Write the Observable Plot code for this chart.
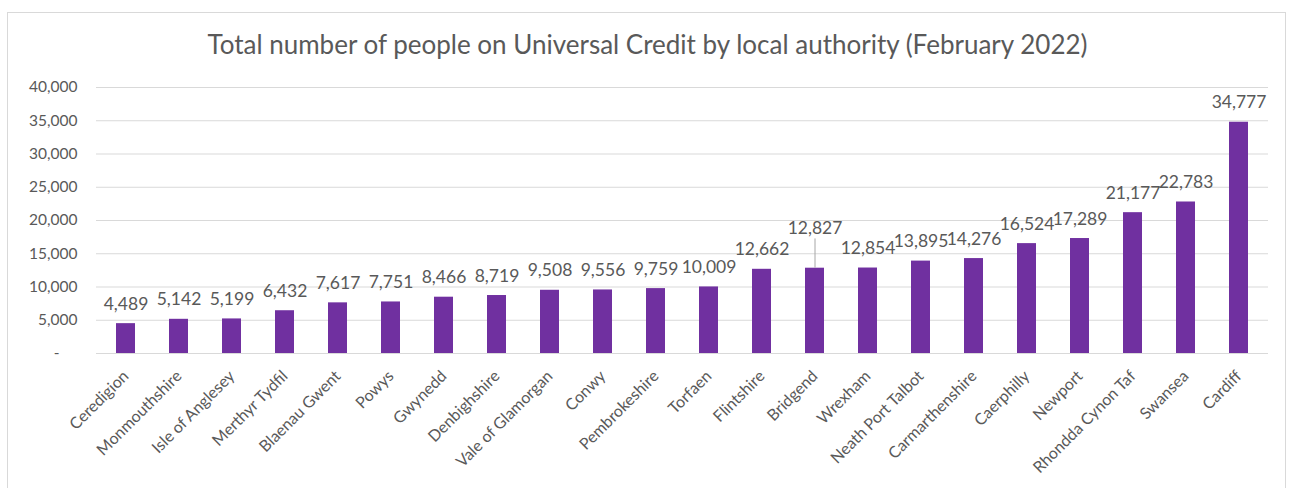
<!DOCTYPE html>
<html>
<head>
<meta charset="utf-8">
<script src="https://cdn.jsdelivr.net/npm/d3@7"></script>
<script src="https://cdn.jsdelivr.net/npm/@observablehq/plot@0.6"></script>
<style>
  html, body { margin: 0; padding: 0; background: #ffffff; }
  #wrap { position: relative; width: 1295px; height: 488px; overflow: hidden; font-family: Lato, "Open Sans", sans-serif; }
  #box { position: absolute; left: 7px; top: 12px; width: 1279px; height: 500px; border: 1px solid #d9d9d9; box-sizing: border-box; }
  #title { position: absolute; left: 0; top: 29px; width: 1295px; text-align: center; font-size: 26px; line-height: 1.2; color: #595959; }
  #chart { position: absolute; left: 0; top: 0; }
</style>
</head>
<body>
<div id="wrap">
  <div id="box"></div>
  <div id="title">Total number of people on Universal Credit by local authority (February 2022)</div>
  <div id="chart"></div>
</div>
<script>
const categories = ["Ceredigion", "Monmouthshire", "Isle of Anglesey", "Merthyr Tydfil", "Blaenau Gwent", "Powys", "Gwynedd", "Denbighshire", "Vale of Glamorgan", "Conwy", "Pembrokeshire", "Torfaen", "Flintshire", "Bridgend", "Wrexham", "Neath Port Talbot", "Carmarthenshire", "Caerphilly", "Newport", "Rhondda Cynon Taf", "Swansea", "Cardiff"];
const values = [4489, 5142, 5199, 6432, 7617, 7751, 8466, 8719, 9508, 9556, 9759, 10009, 12662, 12827, 12854, 13895, 14276, 16524, 17289, 21177, 22783, 34777];
const yTicks = [0, 5000, 10000, 15000, 20000, 25000, 30000, 35000, 40000];
const leaderCategories = ["Bridgend"];

const data = categories.map((name, i) => ({name, value: values[i]}));
const fmt = d3.format(",");
const normal = data.filter(d => !leaderCategories.includes(d.name));
const leader = data.filter(d => leaderCategories.includes(d.name));

const chart = Plot.plot({
  width: 1295,
  height: 488,
  marginLeft: 96,
  marginRight: 27,
  marginTop: 87,
  marginBottom: 135,
  style: {fontFamily: "Lato, 'Open Sans', sans-serif", color: "#595959", background: "transparent"},
  x: {domain: categories, paddingInner: 0.65, paddingOuter: 0.33, label: null},
  y: {domain: [0, 40000], label: null},
  marks: [
    Plot.gridY(yTicks.filter(t => t > 0), {stroke: "#d9d9d9", strokeOpacity: 1}),
    Plot.barY(data, {x: "name", y: "value", fill: "#7030A0"}),
    Plot.ruleY([0], {stroke: "#d9d9d9", strokeWidth: 1.2}),
    Plot.axisY({ticks: yTicks, tickSize: 0, tickPadding: 19, fontSize: 15.5, fill: "#595959",
      tickFormat: d => d === 0 ? "-\u2007\u2007" : fmt(d)}),
    Plot.axisX({tickSize: 0, tickRotate: -45, tickPadding: 20, fontSize: 16, fill: "#595959"}),
    Plot.text(normal, {x: "name", y: "value", text: d => fmt(d.value), dy: -14, lineAnchor: "bottom", fontSize: 17.5, fill: "#595959"}),
    Plot.text(leader, {x: "name", y: "value", text: d => fmt(d.value), dy: -34, lineAnchor: "bottom", fontSize: 17.5, fill: "#595959"}),
    Plot.ruleX(leader, {x: "name", y1: "value", y2: d => d.value + 4400, stroke: "#a6a6a6", strokeWidth: 1})
  ]
});
document.getElementById("chart").appendChild(chart);
</script>
</body>
</html>
